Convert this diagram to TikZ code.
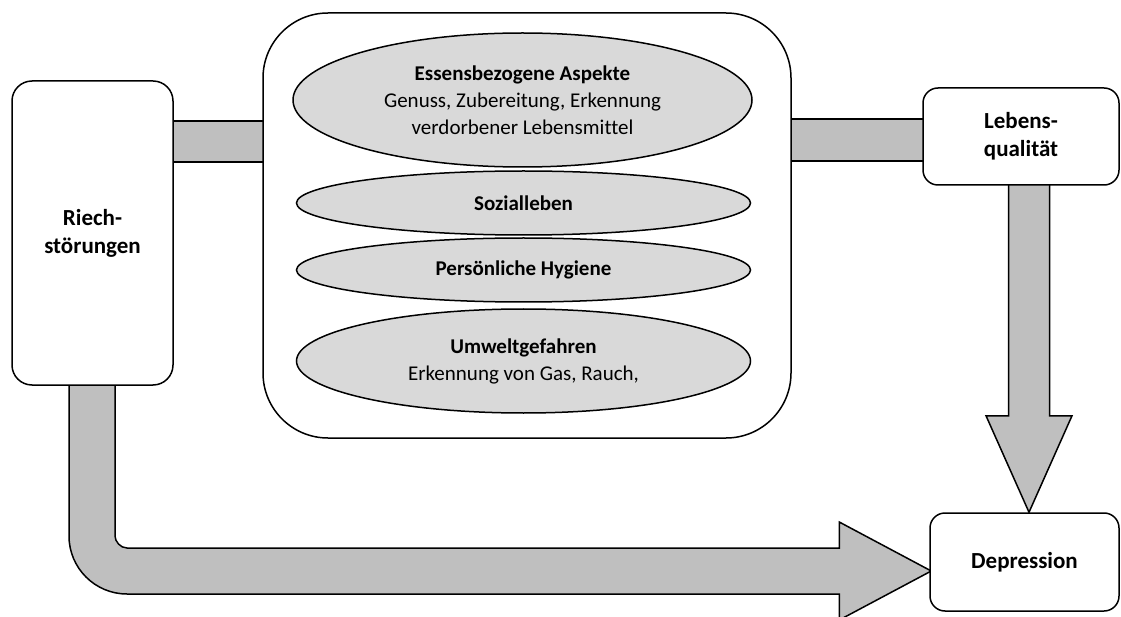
\documentclass[tikz,border=0pt]{standalone}
\usepackage{fontspec}
\setmainfont{Carlito}[Ligatures=NoCommon]
\usetikzlibrary{shapes.geometric,calc}
\definecolor{arrowgray}{HTML}{BFBFBF}
\definecolor{ellgray}{HTML}{D9D9D9}
\pgfdeclarelayer{bg}
\pgfsetlayers{bg,main}
\begin{document}
\begin{tikzpicture}[x=1pt,y=-1pt,
  every node/.style={font=\fontsize{21}{27}\selectfont, align=center, inner sep=0pt},
  box/.style={draw, line width=1.5pt, fill=white, rounded corners=#1, font=\fontsize{23}{28}\selectfont\bfseries},
  ell/.style={ellipse, draw, line width=1.5pt, fill=ellgray},
  blockarrow/.style={draw, line width=1.5pt, fill=arrowgray, line join=miter}]
\useasboundingbox (0,0) rectangle (1121,617);

% main boxes
\node[box=20, minimum width=161, minimum height=304] (riech) at (92.5,233) {Riech-\\störungen};
\node[box=65, minimum width=528, minimum height=425] (center) at (527,225.5) {};
\node[box=15, minimum width=196, minimum height=97] (leben) at (1021,136.5) {Lebens-\\qualität};
\node[box=15, minimum width=189, minimum height=98] (dep) at (1024.5,562) {Depression};

% ellipses
\node[ell, minimum width=459, minimum height=134] (e1) at (522.5,100)
  {\textbf{Essensbezogene Aspekte}\\Genuss, Zubereitung, Erkennung\\verdorbener Lebensmittel};
\node[ell, minimum width=454, minimum height=64] (e2) at (523.5,203) {\textbf{Sozialleben}};
\node[ell, minimum width=454, minimum height=64] (e3) at (523.5,270) {\textbf{Persönliche Hygiene}};
\node[ell, minimum width=454, minimum height=104] (e4) at (523.5,361)
  {\textbf{Umweltgefahren}\\Erkennung von Gas, Rauch,};

% connectors (behind boxes)
\begin{pgfonlayer}{bg}
\draw[blockarrow] ($(riech.north east)+(-5,41)$) rectangle ($(center.west |- riech.north)+(5,82)$);
\draw[blockarrow] ($(center.east |- leben.north)+(-5,32)$) rectangle ($(leben.west)+(5,24.5)$);
% arrow Lebensqualitaet -> Depression
\draw[blockarrow] ($(leben.south)+(-12.5,-5)$) -- ($(leben.south)+(-12.5,230)$) -- ++(-22.5,0)
  -- ($(dep.north)+(4.5,0)$) -- ($(leben.south)+(51,230)$) -- ++(-22.5,0)
  -- ($(leben.south)+(28.5,-5)$) -- cycle;
% arrow Riechstoerungen -> Depression
\coordinate (ls) at ($(riech.south)+(0,-5)$);
\coordinate (lc) at (ls |- dep.west);
\draw[blockarrow] ($(ls)+(22.5,0)$) -- ($(lc)+(22.5,-26)$)
  .. controls ($(lc)+(22.5,-20.6)$) and ($(lc)+(27.9,-14)$) .. ($(lc)+(34.5,-14)$)
  -- ($(dep.west)+(-90,-14)$) -- ($(dep.west)+(-90,-40)$) -- ($(dep.west)+(2,9)$)
  -- ($(dep.west)+(-90,58)$) -- ($(dep.west)+(-90,32)$) -- ($(lc)+(34.5,32)$)
  .. controls ($(lc)+(2.5,32)$) and ($(lc)+(-23.5,6)$) .. ($(lc)+(-23.5,-26)$)
  -- ($(ls)+(-23.5,0)$) -- cycle;
\end{pgfonlayer}
\end{tikzpicture}
\end{document}
